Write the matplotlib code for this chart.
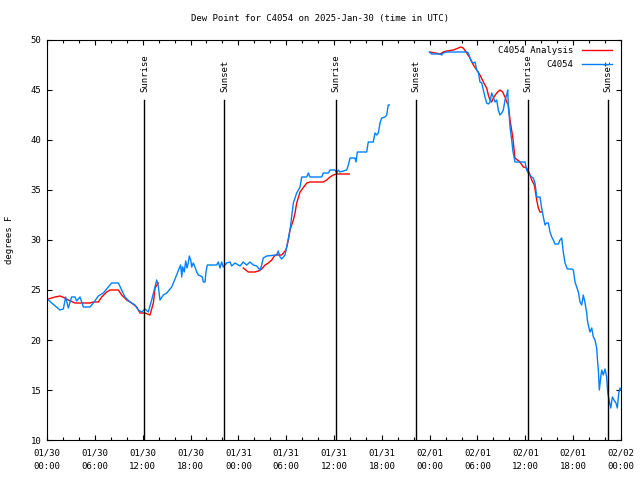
import numpy as np
import matplotlib
matplotlib.use('Agg')
import matplotlib.pyplot as plt

# hours since 2025-01-30 00:00 UTC, dew point in F
obs_hours = [0.04, 0.59, 1.63, 2.05, 2.34, 2.67, 3.09, 3.51, 3.72, 4.14, 4.56, 5.39, 5.81, 6.44,
             7.06, 8.11, 8.95, 9.37, 9.78, 10.41, 11.04, 11.45, 11.88, 12.29, 12.71, 13.13, 13.76,
             13.96, 14.17, 14.59, 15.02, 15.64, 16.06, 16.6, 16.77, 16.9, 17.02, 17.22, 17.4, 17.56,
             17.72, 17.85, 18.03, 18.15, 18.35, 18.56, 18.78, 18.98, 19.28, 19.48, 19.61, 19.82,
             19.94, 20.11, 21.07, 21.28, 21.49, 21.7, 21.91, 22.12, 22.54, 22.96, 23.17, 23.58,
             24.21, 24.62, 25.05, 25.46, 25.88, 26.3, 26.72, 26.93, 27.13, 27.56, 28.81, 29.01,
             29.23, 29.44, 29.85, 30.07, 30.48, 30.9, 31.32, 31.74, 31.95, 32.58, 32.78, 32.99,
             34.46, 34.66, 35.29, 35.5, 36.13, 36.34, 36.54, 36.75, 37.59, 37.8, 38.01, 38.63,
             38.76, 38.93, 40.1, 40.3, 40.93, 41.14, 41.36, 41.56, 41.77, 41.98, 42.4, 42.61,
             42.81, 42.94]
obs_dewpt = [24.1, 23.7, 23.0, 23.1, 24.3, 23.2, 24.3, 24.3, 23.9, 24.3, 23.3, 23.3, 23.7, 24.4,
             24.7, 25.7, 25.7, 25.0, 24.3, 23.8, 23.5, 23.0, 22.8, 23.1, 22.8, 24.0, 26.0,
             25.4, 24.0, 24.5, 24.7, 25.3, 26.1, 27.2, 27.5, 26.3, 27.3, 26.8, 27.9, 27.2,
             27.7, 28.4, 28.0, 27.3, 27.7, 27.3, 26.8, 26.5, 26.4, 26.3, 25.8, 25.8,
             26.8, 27.5, 27.5, 27.5, 27.8, 27.2, 27.8, 27.3, 27.7, 27.8, 27.4, 27.7,
             27.4, 27.8, 27.5, 27.8, 27.5, 27.4, 27.0, 27.5, 28.2, 28.4, 28.5, 28.9,
             28.3, 28.1, 28.5, 29.3, 31.0, 33.7, 34.7, 35.3, 36.3, 36.3, 36.7, 36.3,
             36.3, 36.7, 36.7, 37.0, 37.0, 36.7, 37.0, 36.8, 37.0, 37.5, 38.2, 38.2,
             37.8, 38.8, 38.8, 39.8, 39.8, 40.7, 40.5, 40.7, 41.7, 42.2, 42.3, 42.5,
             43.5, 43.5]

obs2_hours = [47.96, 48.25, 49.3, 49.51, 49.71, 50.14, 52.22, 52.65, 52.85, 53.06, 53.27, 53.48,
              53.69, 53.9, 54.1, 54.31, 54.53, 54.73, 54.94, 55.15, 55.36, 55.57, 55.78, 55.98,
              56.2, 56.41, 56.61, 56.82, 57.03, 57.24, 57.45, 57.66, 57.79, 57.87, 57.99, 58.08,
              58.29, 58.42, 58.49, 58.7, 59.96, 60.17, 60.37, 60.59, 60.8, 61.0, 61.21, 61.43,
              61.84, 62.05, 62.26, 62.47, 62.68, 62.88, 63.1, 63.31, 63.51, 63.72, 64.14, 64.35,
              64.56, 64.76, 64.98, 65.27, 65.82, 66.02, 66.23, 66.44, 66.65, 66.86, 67.07, 67.27,
              67.49, 67.7, 67.78, 67.9, 68.11, 68.33, 68.53, 68.74, 68.95, 69.03, 69.16, 69.28,
              69.46, 69.58, 69.78, 70.0, 70.2, 70.33, 70.5, 70.71, 70.92, 71.12, 71.37, 71.54,
              71.72, 71.88, 72.0]
obs2_dewpt = [48.8, 48.6, 48.6, 48.5, 48.7, 48.8, 48.8, 48.8, 48.7, 48.2, 47.8, 47.7,
              47.8, 47.0, 46.8, 45.8, 45.7, 45.0, 44.3, 43.7, 43.6, 43.8, 44.7, 44.3,
              43.8, 44.0, 43.0, 42.5, 42.7, 43.0, 44.0, 44.5, 45.0, 43.3, 42.3, 41.3,
              40.0, 39.0, 38.7, 37.8, 37.8, 37.0, 36.7, 36.5, 36.3, 36.2, 35.7, 34.3,
              34.3, 33.2, 32.3, 31.5, 31.7, 31.7, 30.8, 30.3, 30.0, 29.6, 29.6, 30.0,
              30.2, 28.8, 27.7, 27.1, 27.1, 27.0, 25.8, 25.3, 24.8, 23.8, 23.5, 24.5,
              23.7, 22.7, 22.0, 21.5, 20.8, 21.2, 20.3, 20.0, 19.2, 18.2, 17.0, 15.0,
              16.3, 17.0, 16.5, 17.1, 16.3, 14.8, 14.0, 13.2, 14.3, 14.0, 13.7, 13.2,
              14.7, 15.2, 15.0]

ana1_hours = [0.17, 1.0, 1.63, 2.26, 2.67, 3.51, 5.39, 5.81, 6.44, 6.86, 7.49, 7.9, 8.95, 9.37,
              10.0, 10.62, 11.25, 11.67, 12.29, 12.92, 13.34, 13.55, 13.96]
ana1_dewpt = [24.1, 24.3, 24.4, 24.2, 24.0, 23.7, 23.7, 23.8, 23.8, 24.3, 24.8, 25.0, 25.0, 24.5,
              24.0, 23.7, 23.3, 22.7, 22.7, 22.5, 23.7, 25.2, 25.7]

ana2_hours = [24.62, 25.25, 26.09, 26.51, 26.93, 27.35, 27.76, 28.19, 28.6, 29.44, 29.98, 30.27,
              30.48, 30.9, 31.11, 31.32, 31.74, 32.58, 32.99, 34.66, 35.08, 35.5, 35.91, 36.34, 37.92]
ana2_dewpt = [27.2, 26.8, 26.8, 26.9, 27.1, 27.5, 27.7, 28.0, 28.5, 28.5, 29.0, 30.0,
              31.0, 32.0, 32.7, 33.7, 34.8, 35.7, 35.8, 35.8, 36.0, 36.3, 36.5, 36.6, 36.6]

ana3_hours = [48.04, 48.67, 49.3, 49.71, 50.14, 50.97, 51.6, 51.89, 52.22, 52.65, 53.06, 53.48,
              53.9, 54.31, 54.73, 55.15, 55.36, 55.57, 55.78, 55.98, 56.41, 56.82, 57.16, 57.45,
              57.66, 57.87, 58.08, 58.42, 58.55, 58.7, 59.33, 59.75, 60.17, 60.5, 60.8, 61.13,
              61.43, 61.63, 61.84, 62.05]
ana3_dewpt = [48.8, 48.7, 48.6, 48.8, 48.9, 49.0, 49.2, 49.3, 49.2, 48.7, 48.2, 47.5,
              47.0, 46.5, 45.8, 45.2, 44.5, 44.0, 43.8, 44.2, 44.7, 45.0, 44.8, 44.3,
              43.8, 43.5, 42.0, 40.3, 39.3, 38.2, 37.8, 37.3, 37.2, 36.7, 36.0, 35.5,
              34.0, 33.2, 32.8, 32.8]

sun_hours = [12.22, 22.25, 36.28, 46.3, 60.35, 70.4]
sun_names = ['Sunrise', 'Sunset', 'Sunrise', 'Sunset', 'Sunrise', 'Sunset']

tick_hours = list(range(0, 73, 6))
tick_labels = ['01/30\n00:00', '01/30\n06:00', '01/30\n12:00', '01/30\n18:00',
               '01/31\n00:00', '01/31\n06:00', '01/31\n12:00', '01/31\n18:00',
               '02/01\n00:00', '02/01\n06:00', '02/01\n12:00', '02/01\n18:00',
               '02/02\n00:00']

FS = 6.5
plt.rcParams['font.family'] = ['DejaVu Sans Mono']
plt.rcParams['font.size'] = FS

fig = plt.figure(figsize=(6.4, 4.8), dpi=100)
ax = fig.add_axes([47/640, 40/480, 574/640, 400/480])

red = '#ff0000'
blue = '#0080ff'
lw = 1.0

ax.plot(ana1_hours, ana1_dewpt, color=red, lw=lw, label='C4054 Analysis')
ax.plot(ana2_hours, ana2_dewpt, color=red, lw=lw)
ax.plot(ana3_hours, ana3_dewpt, color=red, lw=lw)
ax.plot(obs_hours, obs_dewpt, color=blue, lw=lw, label='C4054')
ax.plot(obs2_hours, obs2_dewpt, color=blue, lw=lw)

for h, name in zip(sun_hours, sun_names):
    ax.plot([h, h], [10, 44], color='black', lw=1.0)
    ax.text(h, 44.8, name, rotation=90, ha='center', va='bottom', fontsize=FS)

ax.set_xlim(0, 72)
ax.set_ylim(10, 50)
ax.set_xticks(tick_hours)
ax.set_xticklabels(tick_labels, linespacing=1.65)
ax.set_xticks(np.arange(0, 73, 2), minor=True)
ax.set_yticks(np.arange(10, 51, 5))
ax.tick_params(which='both', direction='in', top=True, right=True, width=0.8)
ax.tick_params(which='major', length=3.5, pad=4)
ax.tick_params(axis='x', which='major', pad=6)
ax.tick_params(which='minor', length=2)
for s in ax.spines.values():
    s.set_linewidth(0.8)

fig.text(0.5, 1 - 19/480, 'Dew Point for C4054 on 2025-Jan-30 (time in UTC)',
         ha='center', va='center', fontsize=FS)
fig.text(10/640, 0.5, 'degrees F', rotation=90, ha='center', va='center', fontsize=FS)

ax.legend(loc='upper right', bbox_to_anchor=(0.984, 0.985), frameon=False,
          markerfirst=False, handlelength=3.3, handletextpad=1.0,
          borderpad=0, borderaxespad=0, labelspacing=0.55, fontsize=FS)

fig.savefig('out.png', dpi=100)
